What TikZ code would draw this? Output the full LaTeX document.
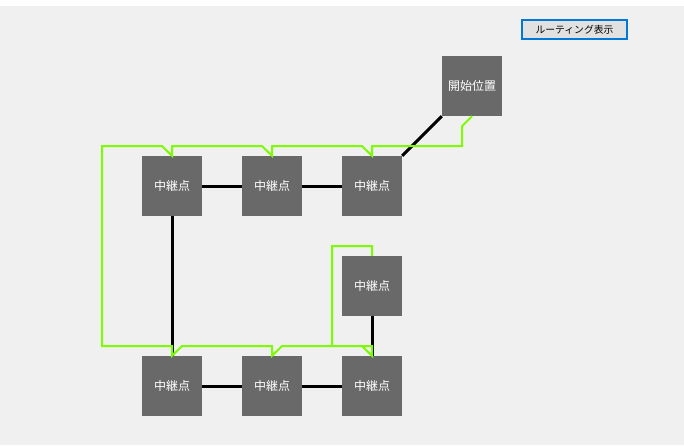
\documentclass[tikz,border=0pt]{standalone}
\usepackage{fontspec}
\newfontfamily\cjk{Noto Sans CJK JP}
\definecolor{bg}{HTML}{F0F0F0}
\definecolor{boxgray}{HTML}{696969}
\definecolor{route}{HTML}{7CFC00}
\definecolor{btnblue}{HTML}{0078D7}
\definecolor{btnfill}{HTML}{E1E1E1}
\tikzset{
  relay/.style={rectangle, fill=boxgray, minimum width=60pt, minimum height=60pt, inner sep=0pt, text=white, font=\cjk\fontsize{12}{12}\selectfont},
  link/.style={line width=3pt, black},
  routeline/.style={line width=2pt, route, line join=miter},
  btn/.style={rectangle, draw=btnblue, line width=1.6pt, fill=btnfill, minimum width=105pt, minimum height=19pt, inner sep=0pt, font=\cjk\fontsize{9.8}{10}\selectfont}
}
\begin{document}
\begin{tikzpicture}[x=1pt, y=-1pt]
\useasboundingbox (0,0) rectangle (684,445);
\fill[white] (0,0) rectangle (684,6);
\fill[bg] (0,6) rectangle (684,445);
% nodes
\node[relay] (s) at (472,86) {開始位置};
\node[relay] (a1) at (172,186) {中継点};
\node[relay] (a2) at (272,186) {中継点};
\node[relay] (a3) at (372,186) {中継点};
\node[relay] (m) at (372,286) {中継点};
\node[relay] (b1) at (172,386) {中継点};
\node[relay] (b2) at (272,386) {中継点};
\node[relay] (b3) at (372,386) {中継点};
\node[btn] (btn) at (574.5,29.5) {ルーティング表示};
% links
\draw[link] (s.south west) -- (a3.north east);
\draw[link] (a1) -- (a2);
\draw[link] (a2) -- (a3);
\draw[link] (a1) -- (b1);
\draw[link] (b1) -- (b2);
\draw[link] (b2) -- (b3);
\draw[link] (m) -- (b3);
% route
\draw[routeline] (s.south) -- ++(-10,10) -- (462,146) -- (a3.north |- 0,146) -- (a3.north)
  -- (362,146) -- (a2.north |- 0,146) -- (a2.north)
  -- (262,146) -- (a1.north |- 0,146) -- (a1.north)
  -- (162,146) -- (102,146) -- (102,346) -- (b1.north |- 0,346) -- (b1.north)
  -- (182,346) -- (b2.north |- 0,346) -- (b2.north)
  -- (282,346) -- (b3.north |- 0,346) -- (b3.north)
  -- (362,346) -- (332,346) -- (332,246) -- (m.north |- 0,246) -- (m.north);
\end{tikzpicture}
\end{document}
